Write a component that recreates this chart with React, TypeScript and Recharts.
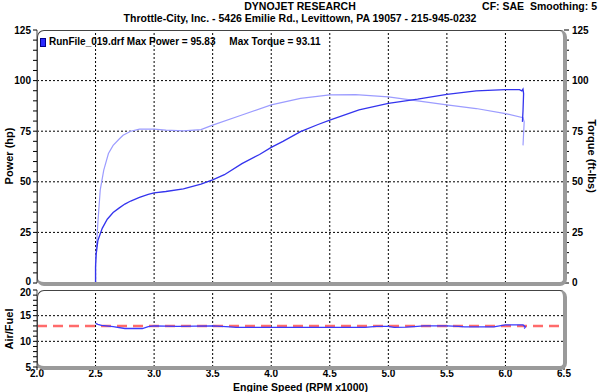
import React from 'react';
import {
  LineChart,
  Line,
  XAxis,
  YAxis,
  ReferenceLine,
} from 'recharts';

// power curve (rpm x1000, hp)
const powerRpm = [
  2.5, 2.5, 2.505, 2.52, 2.557, 2.6, 2.65, 2.7, 2.75, 2.8, 2.875, 2.95, 3.0, 3.1, 3.25, 3.4, 3.5,
  3.6, 3.75, 3.9, 4.0, 4.1, 4.25, 4.4, 4.5, 4.75, 5.0, 5.25, 5.5, 5.75, 6.0, 6.12, 6.14, 6.15,
  6.155, 6.15, 6.145,
];
const powerHp = [
  0, 8, 14, 21, 27, 31.5, 34.8, 37, 39, 40.5, 42.3, 43.8, 44.5, 45.2, 46.5, 48.8, 51, 53.5, 59,
  63.5, 67, 70, 74.8, 78.3, 80.5, 85.5, 88.8, 90.8, 93.2, 94.9, 95.5, 95.5, 94.9, 95.8, 93.6, 85,
  79.6,
];

// torque curve (rpm x1000, ft-lbs)
const torqueRpm = [
  2.5, 2.5, 2.505, 2.52, 2.54, 2.57, 2.61, 2.65, 2.7, 2.735, 2.8, 2.875, 3.0, 3.1, 3.25, 3.4, 3.5,
  3.75, 4.0, 4.25, 4.5, 4.72, 5.0, 5.25, 5.5, 5.75, 6.0, 6.15, 6.16, 6.15,
];
const torqueLbs = [
  0, 10, 15, 30, 46, 55.8, 64, 68, 71, 73, 75, 76, 76, 75.5, 75.2, 75.8, 78, 83, 88, 91.2, 92.9,
  93.1, 92, 90, 88, 86.2, 83.7, 81.7, 79.6, 68,
];

// air/fuel ratio
const afrRpm = [
  2.5, 2.52, 2.55, 2.65, 2.75, 2.9, 2.95, 3.0, 3.2, 3.5, 3.65, 3.7, 4.8, 4.9, 5.0, 5.05, 5.15,
  5.25, 5.3, 5.5, 5.6, 5.65, 5.9, 5.95, 6.0, 6.15, 6.17, 6.16,
];
const afrRatio = [
  13.5, 13.3, 13.1, 12.85, 12.5, 12.5, 12.85, 13.0, 12.9, 13.0, 12.8, 12.7, 12.7, 12.9, 12.9,
  12.7, 12.75, 12.9, 13.0, 13.0, 12.9, 12.8, 12.8, 13.0, 13.2, 13.2, 12.8, 12.5,
];
const afrTarget = 13;

const rpmMajor = [2.0, 2.5, 3.0, 3.5, 4.0, 4.5, 5.0, 5.5, 6.0, 6.5];
const rpmMinor = Array.from({ length: 46 }, (_, i) => Math.round((2 + i * 0.1) * 10) / 10);
const topTicks = Array.from({ length: 26 }, (_, i) => i * 5);
const topGrid = [25, 50, 75, 100];
const afrTicks = Array.from({ length: 16 }, (_, i) => 5 + i);
const afrGrid = [10, 15];

const powerData = powerRpm.map((rpm, i) => ({ rpm, hp: powerHp[i] }));
const torqueData = torqueRpm.map((rpm, i) => ({ rpm, tq: torqueLbs[i] }));
const afrData = afrRpm.map((rpm, i) => ({ rpm, afr: afrRatio[i] }));

const FONT = '"Liberation Sans", Arial, sans-serif';
const tickStyle = { fill: '#000', fontSize: 10, fontWeight: 700, fontFamily: FONT };
const bold = { fontFamily: FONT, fontWeight: 700, fontSize: 10.5, color: '#000' };
const gridLine = { stroke: '#000', strokeDasharray: '2 2', strokeWidth: 1 };

// y tick label with only every 5th value printed; the ends are nudged apart
const yTick = (every: number, anchor: 'start' | 'end', nudge: Record<number, number>) =>
  (props: any) => {
    const { x, y, payload } = props;
    const v = payload.value;
    if (v % every !== 0) return <g />;
    return (
      <text
        x={x}
        y={y + (nudge[v] || 0)}
        textAnchor={anchor}
        dominantBaseline="central"
        style={tickStyle}
      >
        {v}
      </text>
    );
  };

const frame = (top: number, height: number): React.CSSProperties => ({
  position: 'absolute',
  left: 37,
  top,
  width: 530,
  height: height + 3,
  boxSizing: 'border-box',
  border: '1px solid #444',
  borderRight: '4px solid #9a9a9a',
  borderBottom: '4px solid #9a9a9a',
  borderRadius: 7,
  pointerEvents: 'none',
});

export default function App() {
  return (
    <div
      style={{
        position: 'absolute',
        left: 0,
        top: 0,
        width: 600,
        height: 392,
        background: '#fff',
        overflow: 'hidden',
      }}
    >
      <div style={{ ...bold, position: 'absolute', top: 0, width: 600, textAlign: 'center' }}>
        DYNOJET RESEARCH
      </div>
      <div style={{ ...bold, position: 'absolute', top: 12, width: 600, textAlign: 'center' }}>
        Throttle-City, Inc. - 5426 Emilie Rd., Levittown, PA 19057 - 215-945-0232
      </div>
      <div style={{ ...bold, position: 'absolute', top: 0, right: 3, whiteSpace: 'pre' }}>
        {'CF: SAE  Smoothing: 5'}
      </div>

      <div style={{ position: 'absolute', left: 0, top: 0 }}>
        <LineChart width={600} height={290} margin={{ top: 30, right: 0, left: 0, bottom: 7 }}>
          <XAxis dataKey="rpm" type="number" domain={[2, 6.5]} ticks={rpmMajor} hide />
          <YAxis
            yAxisId="hp"
            width={37}
            domain={[0, 125]}
            ticks={topTicks}
            interval={0}
            tick={yTick(25, 'end', { 0: -2 })}
            tickSize={4}
            tickMargin={2}
            axisLine={{ stroke: '#444' }}
            tickLine={{ stroke: '#000' }}
          />
          <YAxis
            yAxisId="tq"
            orientation="right"
            width={36}
            domain={[0, 125]}
            ticks={topTicks}
            interval={0}
            tick={yTick(25, 'start', { 0: -1 })}
            tickSize={5}
            tickMargin={3}
            axisLine={false}
            tickLine={{ stroke: '#000' }}
          />
          {rpmMajor.slice(1, -1).map((r) => (
            <ReferenceLine key={'x' + r} yAxisId="hp" x={r} {...gridLine} />
          ))}
          {topGrid.map((v) => (
            <ReferenceLine key={'y' + v} yAxisId="hp" y={v} {...gridLine} />
          ))}
          <Line
            yAxisId="tq"
            data={torqueData}
            dataKey="tq"
            type="linear"
            stroke="#9c9cff"
            strokeWidth={1.2}
            dot={false}
            isAnimationActive={false}
          />
          <Line
            yAxisId="hp"
            data={powerData}
            dataKey="hp"
            type="linear"
            stroke="#3434ee"
            strokeWidth={1.3}
            dot={false}
            isAnimationActive={false}
          />
        </LineChart>
      </div>
      <div style={frame(30, 253)} />

      <div style={{ position: 'absolute', left: 40, top: 38, width: 6, height: 9, background: '#2b2bff', border: '1px solid #00008a', boxSizing: 'border-box' }} />
      <div style={{ ...bold, fontSize: 10, position: 'absolute', left: 49, top: 36, whiteSpace: 'pre' }}>
        {'RunFile_019.drf Max Power = 95.83     Max Torque = 93.11'}
      </div>

      <div style={{ position: 'absolute', left: 0, top: 283 }}>
        <LineChart width={600} height={109} margin={{ top: 7, right: 36, left: 0, bottom: 0 }}>
          <XAxis
            dataKey="rpm"
            type="number"
            domain={[2, 6.5]}
            ticks={rpmMinor}
            interval={0}
            tickFormatter={(v: number) => (Math.round(v * 10) % 5 === 0 ? v.toFixed(1) : '')}
            tick={tickStyle}
            tickSize={3}
            tickMargin={0}
            height={25}
            axisLine={{ stroke: '#444' }}
            tickLine={{ stroke: '#000' }}
            label={{
              value: 'Engine Speed (RPM x1000)',
              position: 'insideBottom',
              offset: 1,
              style: { ...tickStyle, fontSize: 10.5 },
            }}
          />
          <YAxis
            width={37}
            domain={[5, 20]}
            ticks={afrTicks}
            interval={0}
            tick={yTick(5, 'end', { 20: 2 })}
            tickSize={4}
            tickMargin={2}
            axisLine={{ stroke: '#444' }}
            tickLine={{ stroke: '#000' }}
          />
          {rpmMajor.slice(1, -1).map((r) => (
            <ReferenceLine key={'x' + r} x={r} {...gridLine} />
          ))}
          {afrGrid.map((v) => (
            <ReferenceLine key={'y' + v} y={v} {...gridLine} />
          ))}
          <ReferenceLine y={afrTarget} stroke="#ff6b6b" strokeWidth={2.5} strokeDasharray="10 6" />
          <Line
            data={afrData}
            dataKey="afr"
            type="linear"
            stroke="#3a3aff"
            strokeWidth={1.3}
            dot={false}
            isAnimationActive={false}
          />
        </LineChart>
      </div>
      <div style={frame(290, 77)} />

      <div
        style={{
          ...bold,
          fontSize: 11,
          position: 'absolute',
          left: 9,
          top: 156,
          whiteSpace: 'pre',
          transform: 'translate(-50%, -50%) rotate(-90deg)',
        }}
      >
        Power (hp)
      </div>
      <div
        style={{
          ...bold,
          fontSize: 11,
          position: 'absolute',
          left: 592,
          top: 156,
          whiteSpace: 'pre',
          transform: 'translate(-50%, -50%) rotate(90deg)',
        }}
      >
        Torque (ft-lbs)
      </div>
      <div
        style={{
          ...bold,
          fontSize: 11,
          position: 'absolute',
          left: 9,
          top: 329,
          whiteSpace: 'pre',
          transform: 'translate(-50%, -50%) rotate(-90deg)',
        }}
      >
        Air/Fuel
      </div>
    </div>
  );
}
